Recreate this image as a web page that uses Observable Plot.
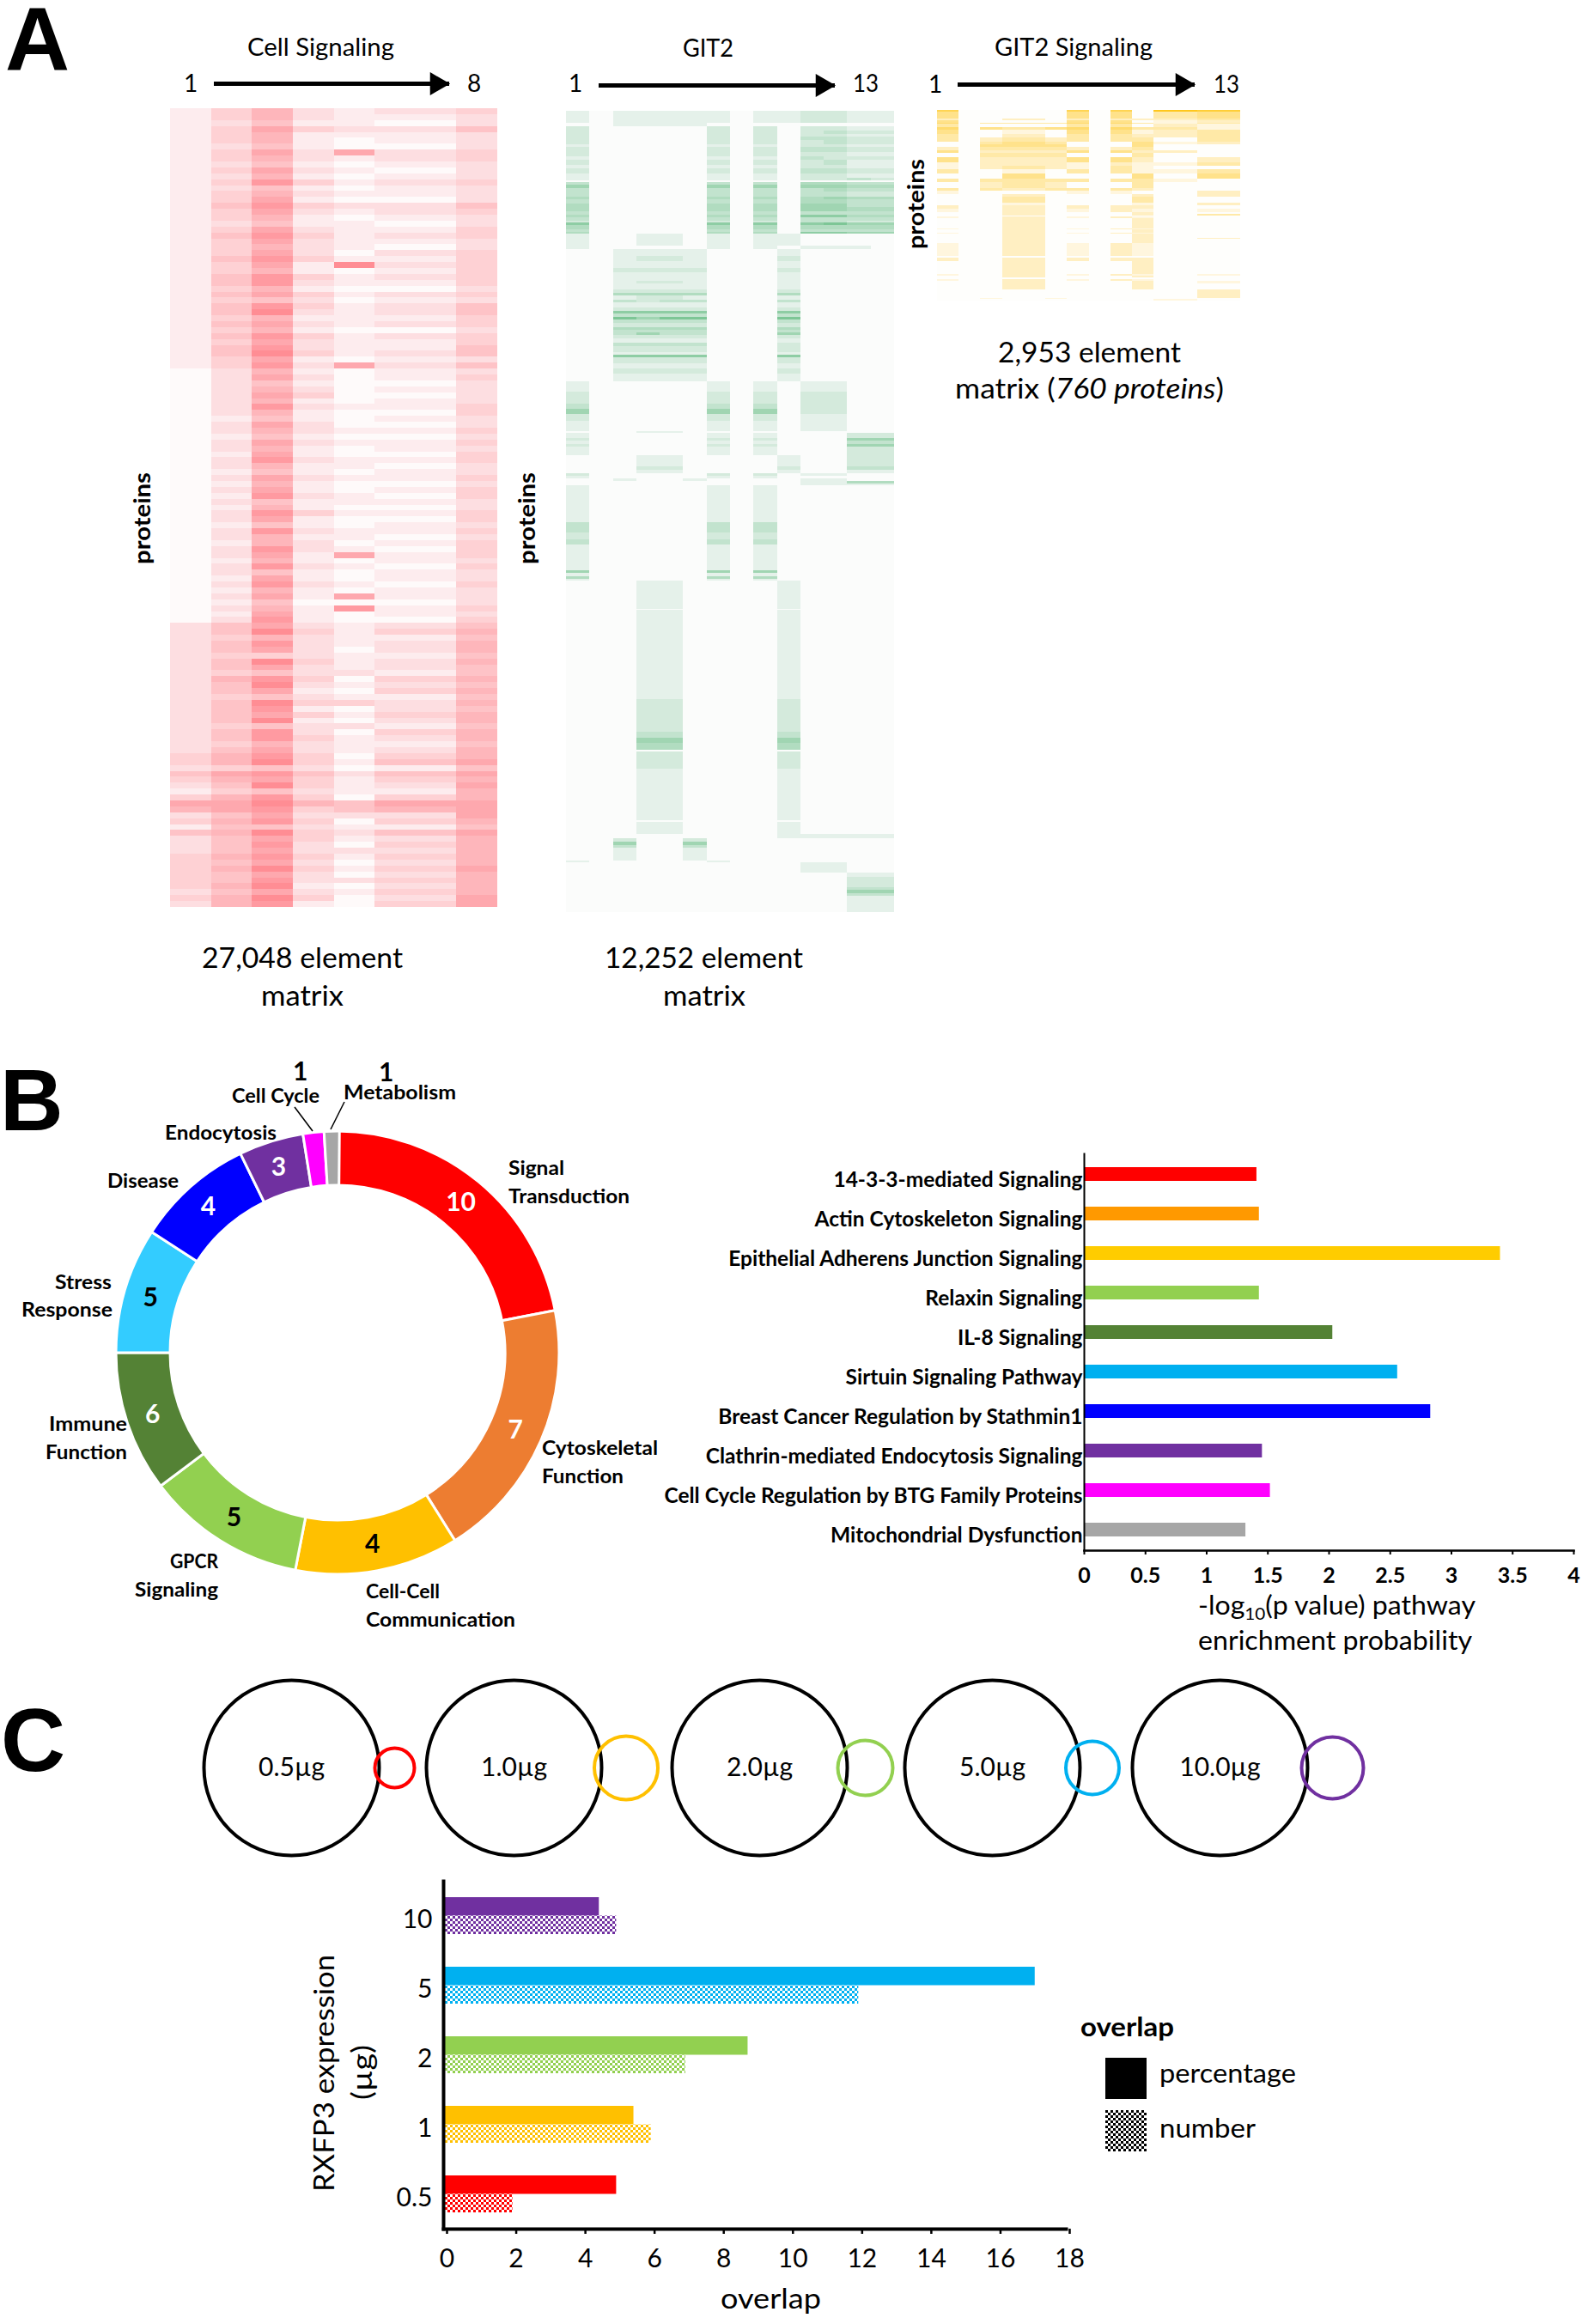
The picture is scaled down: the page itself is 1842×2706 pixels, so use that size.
<!doctype html>
<html><head><meta charset="utf-8">
<script src="https://cdn.jsdelivr.net/npm/d3@7"></script>
<script src="https://cdn.jsdelivr.net/npm/@observablehq/plot@0.6"></script>
<style>
html,body{margin:0;background:#fff}
#page{position:relative;width:1842px;height:2706px;overflow:hidden;font-family:Lato,sans-serif}
#page svg{position:absolute;max-width:none;overflow:visible;background:transparent}
</style></head><body><div id="page"></div>
<script>
/* ---------- DATA ---------- */
// Cell Signaling matrix: one string per band of 25 proteins, one digit (intensity 0-9) per column 1-8
const cellRows = [
"13521223","13521112","12411002","13632224","13511112","13510112","12410002","13626223","13521223","12410112",
"13621002","12510112","13731223","12410112","13521112","13610002","14732224","13621223","13510112","12411002",
"13621113","14731223","13621112","13521002","13620223","14731113","13618223","13510113","14731223","14721113",
"13510002","14631223","13420112","14731224","14821224","13511113","14621223","13510002","14731223","13621113",
"14721114","14831224","13610112","13726224",
"02510112","02620113","02410002","02520112","02630002","02510112","02721113","02510003","01410112","02620002",
"02521113","01410002","02621113","02510112","01610003","02721113","02511002","01410112","02621113","01510002",
"02610113","01721003","02411112","01510002","02731113","02610003","01410112","02721113","02511002","01520113",
"02721003","02616113","01510112","02721003","02410112","01610112","02721003","01510112","02616112","01400002",
"02517113","01610112","02710003",
"24621224","24831335","23521114","24721225","24620225","23321114","24831225","24621224","23422114","25730335",
"24821224","24610335","23421114","24833225","24710224","24631335","24810225","23422114","24720335","24731225",
"23521114","24621225",
"35730335","35831446","23420114","46742446","35631335","24831226","13421115","35730335","66854666","56734556",
"24622226","35730335","14421114","45832446","24631225","24720335","24622225","35731335","34620225","35831336",
"34620225","34722335","35810225","24621335","35830226","25710336"];
const cellProteinsPerBand = 25;

// GIT2 matrix: [proteins in band, digit per column strip]
const git2Rows = [
[14,"10111110112211"],[4,"00111100000000"],[5,"20000020202211"],[4,"20000020202322"],[3,"20000020202211"],
[4,"20000020203322"],[5,"20000020202322"],[3,"10000010102211"],[6,"20000020203322"],[5,"20000020202211"],
[4,"10000010103222"],[6,"20000020202311"],[4,"10000010102211"],[6,"20000020203322"],[5,"10000010102211"],
[3,"10000010102232"],[2,"00000000000000"],[3,"30000030304433"],[4,"50000050505544"],[4,"30000030303433"],
[6,"30000030303322"],[3,"40000040404544"],[5,"30000030304433"],[4,"40000040405533"],[5,"40000040405544"],
[4,"30000030303333"],[3,"40000040406644"],[4,"30000030303333"],[2,"20000020203322"],[3,"60000060606755"],
[5,"40000040404444"],[3,"30000030303333"],[2,"40000040406655"],[14,"10011010110000"],[4,"10000010101110"],
[8,"00111100010000"],[6,"00122100020000"],[8,"00111100010000"],[5,"00222200020000"],[10,"00111100010000"],
[3,"00122100010000"],[7,"00111100010000"],[4,"00222200020000"],[3,"00444400040000"],[5,"00122100010000"],
[3,"00323300030000"],[6,"00111100010000"],[4,"00222200020000"],[3,"00666600060000"],[4,"00333300030000"],
[3,"00757700070000"],[4,"00333300030000"],[5,"00222200020000"],[3,"00444400040000"],[3,"00333300030000"],
[3,"00353300050000"],[4,"00222200020000"],[5,"00111100010000"],[4,"00333300020000"],[7,"00222200020000"],
[3,"00111100010000"],[3,"00666600060000"],[7,"00222200020000"],[6,"00111100010000"],[6,"00222200020000"],
[9,"00111100010000"],[12,"10000010101100"],[8,"20000020202200"],[6,"20000020202200"],[6,"30000030302200"],
[6,"50000050502200"],[8,"20000020201100"],[12,"10000010101100"],[2,"00011000000000"],[6,"10000010100022"],
[3,"20000020200055"],[4,"10000010100033"],[3,"20000020200055"],[10,"10000010100022"],[13,"00011000010022"],
[4,"00022000020033"],[4,"00011000010011"],[3,"20000020201100"],[3,"10000010100000"],[3,"00100100001100"],
[3,"00000000001144"],[2,"00000000001111"],[43,"10000010100000"],[6,"30000030300000"],[6,"30000030300000"],
[8,"20000020200000"],[6,"30000030300000"],[30,"10000010100000"],[3,"50000050500000"],[4,"10000010100000"],
[3,"40000040400000"],[2,"10000010100000"],[33,"00011000010000"],[1,"00000000000000"],[104,"00011000010000"],
[38,"00022000020000"],[7,"00033000030000"],[6,"00055000050000"],[8,"00044000040000"],[2,"00000000000000"],
[20,"00022000020000"],[60,"00011000010000"],[2,"00000000000000"],[14,"00011000010000"],[5,"00000000011111"],
[4,"00200200000000"],[4,"00500500000000"],[3,"00300300000000"],[15,"00100100000000"],[2,"10000010000000"],
[12,"00000000001100"],[5,"00000000000011"],[12,"00000000000022"],[3,"00000000000033"],[4,"00000000000055"],
[3,"00000000000033"],[19,"00000000000011"]];

// GIT2 Signaling matrix: [band size, digit per column strip]
const git2SignalingRows = [
[6,"60000060608877"],[25,"40000040403344"],[5,"20022020222233"],[8,"40000040401122"],[5,"50333350531133"],
[12,"30000030302211"],[8,"50433450533311"],[15,"40011040412233"],[12,"30022030322233"],[15,"30233230330033"],
[10,"00344300041122"],[7,"00444400040000"],[13,"20333320230000"],[10,"40222240422200"],[15,"00333300030000"],
[18,"40222240420022"],[10,"10222210211133"],[12,"10233210310000"],[17,"30011030311133"],[18,"00044000040044"],
[12,"30333330331100"],[20,"00233200030000"],[8,"30322330320000"],[12,"10000010100022"],[10,"00022000020022"],
[20,"00033000030000"],[10,"00011000010022"],[13,"20022020220000"],[12,"10022010210011"],[5,"00022000020000"],
[5,"00022000020033"],[5,"00000000000000"],[5,"10022010210000"],[35,"00022000020000"],[3,"10022010210000"],
[12,"00022000020000"],[5,"10022010210000"],[13,"00022000020000"],[3,"00022000020022"],[17,"00022000020000"],
[15,"10022010210000"],[10,"10022010210000"],[10,"10022010210000"],[10,"10022010210000"],[5,"00000000000000"],
[12,"20022020220000"],[46,"00022000020000"],[4,"10022010210011"],[7,"00022000020000"],[6,"00000000000000"],
[7,"10022010210000"],[8,"00022000020011"],[20,"00022000020000"],[2,"00000000000000"],[28,"00000000000022"],
[5,"00100100000000"],[5,"00000000001100"]];

// B: pathway ring
const ringNames = ["Signal Transduction","Cytoskeletal Function","Cell-Cell Communication","GPCR Signaling","Immune Function","Stress Response","Disease","Endocytosis","Cell Cycle","Metabolism"];
const ringCounts = [10,7,4,5,6,5,4,3,1,1];
const ringSweep = [79,69,43,42,37,33,31,17,5.5,4];
const ringColors = ["#ff0000","#ed7d31","#ffc000","#92d050","#548235","#33ccff","#0000ff","#7030a0","#ff00ff","#a6a6a6"];
const ringLabelInk = ["#fff","#fff","#000","#000","#fff","#000","#fff","#fff","#000","#000"];

// B: pathway enrichment
const pathways = ["14-3-3-mediated Signaling","Actin Cytoskeleton Signaling","Epithelial Adherens Junction Signaling","Relaxin Signaling","IL-8 Signaling","Sirtuin Signaling Pathway","Breast Cancer Regulation by Stathmin1","Clathrin-mediated Endocytosis Signaling","Cell Cycle Regulation by BTG Family Proteins","Mitochondrial Dysfunction"];
const enrichment = [1.41,1.43,3.40,1.43,2.03,2.56,2.83,1.455,1.52,1.32];
const pathwayColors = ["#ff0000","#ff9900","#ffcc00","#92d050","#548235","#00b0f0","#0000ff","#7030a0","#ff00ff","#a6a6a6"];

// C: overlap
const doses = ["10","5","2","1","0.5"];
const overlapPercentage = [4.5,17.1,8.8,5.5,5.0];
const overlapNumber = [5,12,7,6,2];
const doseColors = ["#7030a0","#00b0f0","#92d050","#ffc000","#ff0000"];

// C: Venn diagrams
const vennLabels = ["0.5µg","1.0µg","2.0µg","5.0µg","10.0µg"];
const vennBigRadius = 102;
const vennSmallRadius = [23,37,32,31,36];
const vennSeparation = [120,130.5,123,116.5,131];
const vennColors = ["#ff0000","#ffc000","#92d050","#00b0f0","#7030a0"];

/* ---------- LAYOUT ---------- */
const page = document.getElementById("page");
const place = (svg, left, top) => { svg.style.left = left + "px"; svg.style.top = top + "px"; page.appendChild(svg); return svg; };
const ink = "#000";

function matrixTable(rows) {
  let y = 0; const cells = [];
  for (const [span, levels] of rows) {
    [...levels].forEach((c, i) => cells.push({col: i, y1: y, y2: y + span, level: +c}));
    y += span;
  }
  return {cells, total: y, columns: rows[0][1].length};
}
function heatmap(rows, left, top, width, height, ramp) {
  const {cells, total, columns} = matrixTable(rows);
  place(Plot.plot({
    width, height, margin: 0,
    x: {domain: [0, columns], axis: null},
    y: {domain: [total, 0], axis: null},
    color: {type: "linear", domain: [0, 1, 9], range: ramp},
    marks: [Plot.rect(cells, {x1: "col", x2: d => d.col + 1, y1: "y1", y2: "y2", fill: "level", shapeRendering: "crispEdges"})]
  }), left, top);
}
heatmap(cellRows.map(s => [cellProteinsPerBand, s]), 198, 126, 381, 930, ["#fefafa", "#fdecee", "#ff7f87"]);
heatmap(git2Rows, 659, 129, 382, 933, ["#fbfcfb", "#e5f1ea", "#5ab87a"]);
heatmap(git2SignalingRows, 1091, 128, 353, 222, ["#fefefc", "#fff6de", "#ffc000"]);

function arrow(left, top, width, n) {
  place(Plot.plot({
    width, height: 30, margin: 0,
    x: {domain: [1, n], axis: null},
    y: {domain: [-1, 1], axis: null},
    marks: [
      Plot.ruleY([0], {x1: 1, x2: n, strokeWidth: 5, stroke: ink}),
      Plot.dot([n], {x: d => d, y: 0, symbol: "triangle", r: 10, rotate: 90, fill: ink, dx: -15})
    ]
  }), left, top);
}
arrow(249, 82, 274, 8);
arrow(697, 84, 275, 13);
arrow(1115, 83, 276, 13);

// Ring
{
  const rInner = 195, rOuter = 258;
  let a = 0;
  const slices = ringNames.map((name, i) => {
    const start = a, end = a + ringSweep[i]; a = end;
    const mid = (start + end) / 2 * Math.PI / 180, r = (rInner + rOuter) / 2;
    return {name, count: ringCounts[i], color: ringColors[i], labelInk: ringLabelInk[i],
      startAngle: start * Math.PI / 180, endAngle: end * Math.PI / 180,
      cx: r * Math.sin(mid), cy: r * Math.cos(mid)};
  });
  place(Plot.plot({
    width: 600, height: 600, margin: 0,
    x: {domain: [-300, 300], axis: null},
    y: {domain: [-300, 300], axis: null},
    marks: [
      (index, {x, y}) => {
        const g = d3.create("svg:g").attr("transform", `translate(${x(0)},${y(0)})`);
        const arc = d3.arc().innerRadius(x(rInner) - x(0)).outerRadius(x(rOuter) - x(0));
        g.selectAll("path").data(slices).join("path").attr("d", arc)
          .attr("fill", d => d.color).attr("stroke", "#fff").attr("stroke-width", 3);
        return g.node();
      },
      Plot.text(slices.filter(d => d.count > 1), {x: "cx", y: "cy", text: "count", fill: "labelInk", fontSize: 30, fontWeight: 700, fontFamily: "Lato", dx: -1})
    ]
  }), 93, 1275);
}

// Enrichment bars
{
  const rows = pathways.map((p, i) => ({p, v: enrichment[i], c: pathwayColors[i]}));
  place(Plot.plot({
    width: 1102, height: 530, marginLeft: 522, marginRight: 10, marginTop: 8, marginBottom: 60,
    x: {domain: [0, 4], axis: null},
    y: {domain: pathways, paddingInner: 0.65, paddingOuter: 0.325, axis: null},
    color: {type: "identity"},
    style: {fontFamily: "Lato"},
    marks: [
      Plot.barX(rows, {x: "v", y: "p", fill: "c"}),
      Plot.frame({anchor: "left", stroke: ink, strokeWidth: 2}),
      Plot.frame({anchor: "bottom", stroke: ink, strokeWidth: 2.5}),
      Plot.axisY({label: null, tickSize: 0, tickPadding: 2, dy: 7, fontSize: 24.5, fontWeight: 700, fill: ink}),
      Plot.axisX({label: null, ticks: d3.range(0, 4.5, 0.5), tickFormat: d => String(d), tickSize: 5, tickPadding: 15, fontSize: 25, fontWeight: 700, fill: ink, stroke: ink, strokeWidth: 2})
    ]
  }), 740, 1335);
}

// Venn
vennLabels.forEach((label, i) => {
  const cx = [338.5, 597.5, 884, 1154.5, 1420][i];
  const box = 330, half = 110;
  place(Plot.plot({
    width: box, height: 2 * half, margin: 0,
    x: {domain: [0, box], axis: null},
    y: {domain: [2 * half, 0], axis: null},
    r: {type: "identity"},
    marks: [
      Plot.dot([{x: half, r: vennBigRadius}], {x: "x", y: half, r: "r", stroke: ink, strokeWidth: 4}),
      Plot.dot([{x: half + vennSeparation[i], r: vennSmallRadius[i]}], {x: "x", y: half, r: "r", stroke: vennColors[i], strokeWidth: 4}),
      Plot.text([label], {x: half, y: half, fontSize: 30, fontFamily: "Lato", fill: ink})
    ]
  }), cx - half, 2058 - half);
});

// Overlap bars
{
  const rows = doses.map((d, i) => ({d, pct: overlapPercentage[i], num: overlapNumber[i], c: doseColors[i], pat: `url(#chk${i})`}));
  place(Plot.plot({
    width: 791, height: 480, marginLeft: 46, marginRight: 20, marginTop: 10, marginBottom: 65,
    x: {domain: [0, 18], axis: null},
    y: {domain: doses, padding: 0, axis: null},
    color: {type: "identity"},
    style: {fontFamily: "Lato"},
    marks: [
      Plot.barX(rows, {x: "pct", y: "d", fill: "c", insetTop: 19, insetBottom: 40.5}),
      Plot.barX(rows, {x: "num", y: "d", fill: "pat", insetTop: 40.5, insetBottom: 19}),
      Plot.frame({anchor: "left", stroke: ink, strokeWidth: 4}),
      Plot.frame({anchor: "bottom", stroke: ink, strokeWidth: 4}),
      Plot.axisY({label: null, tickSize: 0, tickPadding: 13, dy: 4, fontSize: 30, fill: ink}),
      Plot.axisX({label: null, ticks: d3.range(0, 19, 2), tickSize: 6, tickPadding: 17, dx: 4, fontSize: 30, fill: ink, stroke: ink, strokeWidth: 2.5})
    ]
  }), 470, 2180);
}

/* ---------- TEXT OVERLAY ---------- */
const overlay = d3.select(page).append("svg").attr("width", 1842).attr("height", 2706)
  .style("left", "0px").style("top", "0px").style("font-family", "Lato");
const defs = overlay.append("defs");
const checker = (id, color) => {
  const p = defs.append("pattern").attr("id", id).attr("patternUnits", "userSpaceOnUse").attr("width", 6).attr("height", 6);
  p.append("rect").attr("width", 6).attr("height", 6).attr("fill", "#fff");
  p.append("rect").attr("width", 3).attr("height", 3).attr("fill", color);
  p.append("rect").attr("x", 3).attr("y", 3).attr("width", 3).attr("height", 3).attr("fill", color);
};
doseColors.forEach((c, i) => checker("chk" + i, c));
checker("chkBlack", "#000");

function T(str, x, y, w, size, weight = 400, rotate = false) {
  const t = overlay.append("text").text(str).attr("font-size", size).attr("font-weight", weight).attr("fill", "#000");
  if (w) t.attr("textLength", w).attr("lengthAdjust", "spacingAndGlyphs");
  if (rotate) t.attr("transform", `translate(${x},${y}) rotate(-90)`); else t.attr("x", x).attr("y", y);
  return t;
}
// panel letters
overlay.append("text").text("A").attr("x", 6).attr("y", 81).attr("font-family", "Liberation Sans").attr("font-weight", 700).attr("font-size", 104);
overlay.append("text").text("B").attr("x", 0).attr("y", 1316).attr("font-family", "Liberation Sans").attr("font-weight", 700).attr("font-size", 102);
overlay.append("text").text("C").attr("x", 1).attr("y", 2062).attr("font-family", "Liberation Sans").attr("font-weight", 700).attr("font-size", 104);

// panel A
T("Cell Signaling", 288, 65, 171, 28);
T("1", 214, 107, 0, 28); T("8", 544, 107, 0, 28);
T("GIT2", 795, 66, 59, 28);
T("1", 662, 107, 0, 28); T("13", 993, 107, 30, 28);
T("GIT2 Signaling", 1158, 65, 184, 28);
T("1", 1081, 108, 0, 28); T("13", 1413, 108, 30, 28);
T("proteins", 175, 657, 107, 26, 700, true);
T("proteins", 623, 657, 107, 26, 700, true);
T("proteins", 1076, 290, 105, 26, 700, true);
T("27,048 element", 235, 1127, 234, 32); T("matrix", 304, 1171, 96, 32);
T("12,252 element", 704, 1127, 231, 32); T("matrix", 772, 1171, 96, 32);
T("2,953 element", 1162, 422, 213, 32);
{
  const t = T("", 1112, 464, 313, 32);
  t.append("tspan").text("matrix (");
  t.append("tspan").attr("font-style", "italic").text("760 proteins");
  t.append("tspan").text(")");
}

// panel B ring labels
T("1", 341, 1258, 0, 30, 700); T("1", 441, 1259, 0, 30, 700);
const lb = 23;
[["Cell Cycle",270,1284,102],["Metabolism",400,1280,131],["Endocytosis",192,1327,130],["Disease",125,1383,83],
 ["Signal",592,1368,65],["Transduction",592,1401,141],["Stress",64,1501,66],["Response",25,1533,106],
 ["Immune",57,1666,91],["Function",53,1699,95],["Cytoskeletal",631,1694,135],["Function",631,1727,95],
 ["GPCR",198,1826,56],["Signaling",157,1859,97],["Cell-Cell",426,1861,86],["Communication",426,1894,174]]
  .forEach(([s, x, y, w]) => T(s, x, y, w, lb, 700));
overlay.append("line").attr("x1", 343).attr("y1", 1289).attr("x2", 364).attr("y2", 1317).attr("stroke", "#000").attr("stroke-width", 1.5);
overlay.append("line").attr("x1", 401).attr("y1", 1283).attr("x2", 385).attr("y2", 1315).attr("stroke", "#000").attr("stroke-width", 1.5);

// panel B axis title
{
  const t = T("", 1395, 1880, 323, 31);
  t.append("tspan").text("-log");
  t.append("tspan").attr("font-size", 20).attr("dy", 6).text("10");
  t.append("tspan").attr("dy", -6).text("(p value) pathway");
  T("enrichment probability", 1395, 1921, 319, 31);
}

// panel C text
T("RXFP3 expression", 389, 2552, 276, 32, 400, true);
T("(µg)", 433, 2445, 64, 32, 400, true);
T("overlap", 839, 2688, 117, 32);
T("overlap", 1258, 2371, 109, 30, 700);
T("percentage", 1350, 2425, 159, 30);
T("number", 1350, 2489, 112, 30);
overlay.append("rect").attr("x", 1287).attr("y", 2396).attr("width", 48).attr("height", 48).attr("fill", "#000");
overlay.append("rect").attr("x", 1287).attr("y", 2457).attr("width", 48).attr("height", 48).attr("fill", "url(#chkBlack)");
</script></body></html>
